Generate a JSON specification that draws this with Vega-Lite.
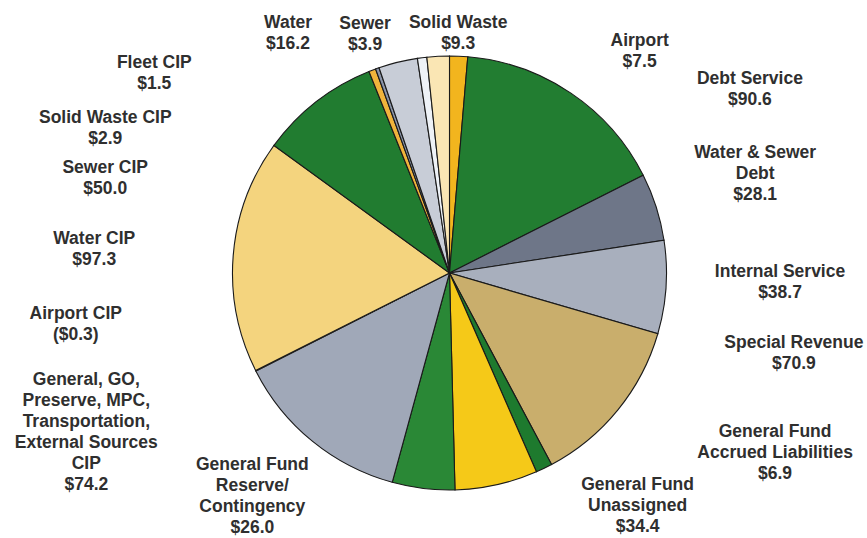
{
  "$schema": "https://vega.github.io/schema/vega-lite/v6.json",
  "width": 835,
  "height": 530,
  "autosize": {"type": "none"},
  "padding": {"left": 32, "right": 0, "top": 8, "bottom": 0},
  "background": "white",
  "config": {
    "view": {"stroke": null},
    "text": {"font": "Liberation Sans", "fontWeight": "bold", "fontSize": 17.5, "fill": "#2f2f2f", "align": "center", "baseline": "middle", "lineBreak": "\n", "lineHeight": 21}
  },
  "data": {
    "values": [
      {"idx": 1, "name": "Airport", "amount": 7.5, "label": "Airport\n$7.5"},
      {"idx": 2, "name": "Debt Service", "amount": 90.6, "label": "Debt Service\n$90.6"},
      {"idx": 3, "name": "Water & Sewer Debt", "amount": 28.1, "label": "Water & Sewer\nDebt\n$28.1"},
      {"idx": 4, "name": "Internal Service", "amount": 38.7, "label": "Internal Service\n$38.7"},
      {"idx": 5, "name": "Special Revenue", "amount": 70.9, "label": "Special Revenue\n$70.9"},
      {"idx": 6, "name": "General Fund Accrued Liabilities", "amount": 6.9, "label": "General Fund\nAccrued Liabilities\n$6.9"},
      {"idx": 7, "name": "General Fund Unassigned", "amount": 34.4, "label": "General Fund\nUnassigned\n$34.4"},
      {"idx": 8, "name": "General Fund Reserve/Contingency", "amount": 26.0, "label": "General Fund\nReserve/\nContingency\n$26.0"},
      {"idx": 9, "name": "General, GO, Preserve, MPC, Transportation, External Sources CIP", "amount": 74.2, "label": "General, GO,\nPreserve, MPC,\nTransportation,\nExternal Sources\nCIP\n$74.2"},
      {"idx": 10, "name": "Airport CIP", "amount": 0.3, "label": "Airport CIP\n($0.3)"},
      {"idx": 11, "name": "Water CIP", "amount": 97.3, "label": "Water CIP\n$97.3"},
      {"idx": 12, "name": "Sewer CIP", "amount": 50.0, "label": "Sewer CIP\n$50.0"},
      {"idx": 13, "name": "Solid Waste CIP", "amount": 2.9, "label": "Solid Waste CIP\n$2.9"},
      {"idx": 14, "name": "Fleet CIP", "amount": 1.5, "label": "Fleet CIP\n$1.5"},
      {"idx": 15, "name": "Water", "amount": 16.2, "label": "Water\n$16.2"},
      {"idx": 16, "name": "Sewer", "amount": 3.9, "label": "Sewer\n$3.9"},
      {"idx": 17, "name": "Solid Waste", "amount": 9.3, "label": "Solid Waste\n$9.3"}
    ]
  },
  "encoding": {
    "theta": {"field": "amount", "type": "quantitative", "stack": true},
    "order": {"field": "idx", "type": "quantitative"}
  },
  "layer": [
    {
      "mark": {"type": "arc", "outerRadius": 217, "stroke": "#1a1a1a", "strokeWidth": 1.1},
      "encoding": {
        "color": {
          "field": "name", "type": "nominal", "legend": null,
          "scale": {
            "domain": ["Airport", "Debt Service", "Water & Sewer Debt", "Internal Service", "Special Revenue", "General Fund Accrued Liabilities", "General Fund Unassigned", "General Fund Reserve/Contingency", "General, GO, Preserve, MPC, Transportation, External Sources CIP", "Airport CIP", "Water CIP", "Sewer CIP", "Solid Waste CIP", "Fleet CIP", "Water", "Sewer", "Solid Waste"],
            "range": ["#f2b51e", "#227d31", "#6e7688", "#a8afbd", "#c9ae6c", "#1e7a2e", "#f5c918", "#2a8836", "#a0a8b8", "#c0c4cc", "#f4d47e", "#217c30", "#f0b43c", "#8a94a8", "#c8cdd7", "#eef2f7", "#fae6b4"]
          }
        }
      }
    },
    {"mark": {"type": "text", "radius": 217, "dx": 181, "dy": -15}, "encoding": {"text": {"condition": {"test": "datum.idx === 1", "field": "label"}, "value": ""}}},
    {"mark": {"type": "text", "radius": 217, "dx": 179, "dy": -14}, "encoding": {"text": {"condition": {"test": "datum.idx === 2", "field": "label"}, "value": ""}}},
    {"mark": {"type": "text", "radius": 217, "dx": 99, "dy": -54}, "encoding": {"text": {"condition": {"test": "datum.idx === 3", "field": "label"}, "value": ""}}},
    {"mark": {"type": "text", "radius": 217, "dx": 114, "dy": -15}, "encoding": {"text": {"condition": {"test": "datum.idx === 4", "field": "label"}, "value": ""}}},
    {"mark": {"type": "text", "radius": 217, "dx": 176, "dy": -67}, "encoding": {"text": {"condition": {"test": "datum.idx === 5", "field": "label"}, "value": ""}}},
    {"mark": {"type": "text", "radius": 217, "dx": 231, "dy": -36}, "encoding": {"text": {"condition": {"test": "datum.idx === 6", "field": "label"}, "value": ""}}},
    {"mark": {"type": "text", "radius": 217, "dx": 141, "dy": 0}, "encoding": {"text": {"condition": {"test": "datum.idx === 7", "field": "label"}, "value": ""}}},
    {"mark": {"type": "text", "radius": 217, "dx": -171, "dy": -23}, "encoding": {"text": {"condition": {"test": "datum.idx === 8", "field": "label"}, "value": ""}}},
    {"mark": {"type": "text", "radius": 217, "dx": -226, "dy": -61}, "encoding": {"text": {"condition": {"test": "datum.idx === 9", "field": "label"}, "value": ""}}},
    {"mark": {"type": "text", "radius": 217, "dx": -180, "dy": -57}, "encoding": {"text": {"condition": {"test": "datum.idx === 10", "field": "label"}, "value": ""}}},
    {"mark": {"type": "text", "radius": 217, "dx": -139, "dy": -16}, "encoding": {"text": {"condition": {"test": "datum.idx === 11", "field": "label"}, "value": ""}}},
    {"mark": {"type": "text", "radius": 217, "dx": -211, "dy": 66}, "encoding": {"text": {"condition": {"test": "datum.idx === 12", "field": "label"}, "value": ""}}},
    {"mark": {"type": "text", "radius": 217, "dx": -267, "dy": 48}, "encoding": {"text": {"condition": {"test": "datum.idx === 13", "field": "label"}, "value": ""}}},
    {"mark": {"type": "text", "radius": 217, "dx": -223, "dy": -5}, "encoding": {"text": {"condition": {"test": "datum.idx === 14", "field": "label"}, "value": ""}}},
    {"mark": {"type": "text", "radius": 217, "dx": -110, "dy": -39}, "encoding": {"text": {"condition": {"test": "datum.idx === 15", "field": "label"}, "value": ""}}},
    {"mark": {"type": "text", "radius": 217, "dx": -57, "dy": -34}, "encoding": {"text": {"condition": {"test": "datum.idx === 16", "field": "label"}, "value": ""}}},
    {"mark": {"type": "text", "radius": 217, "dx": 20, "dy": -33}, "encoding": {"text": {"condition": {"test": "datum.idx === 17", "field": "label"}, "value": ""}}}
  ]
}
